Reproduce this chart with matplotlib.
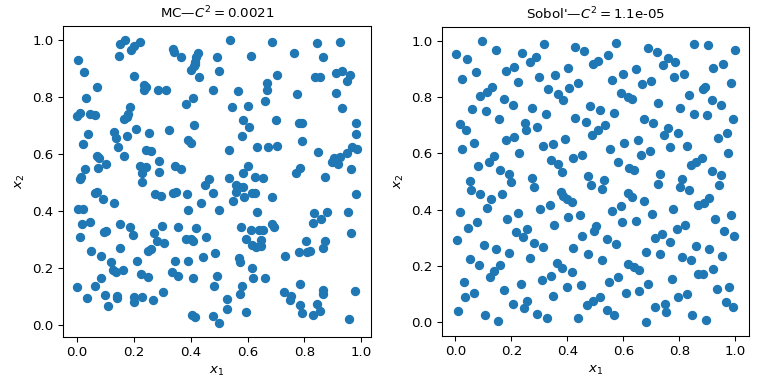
import matplotlib
matplotlib.use("Agg")
import matplotlib.pyplot as plt

mc_x = [0.15, 0.17, 0.19, 0.20, 0.22, 0.147, 0.539, 0.687, 0.845, 0.926, 0.765, 0.866, 0.004,
        0.336, 0.342, 0.366, 0.425, 0.42, 0.415, 0.41, 0.40, 0.43, 0.415, 0.492, 0.498, 0.611,
        0.025, 0.202, 0.704, 0.67, 0.669, 0.565, 0.477, 0.237, 0.243, 0.234, 0.284, 0.313, 0.07,
        0.839, 0.856, 0.911, 0.932, 0.961, 0.95, 0.912, 0.775, 0.409, 0.383, 0.03, 0.187, 0.547,
        0.603, 0.661, 0.932, 0.0, 0.01, 0.044, 0.065, 0.18, 0.167, 0.175, 0.584, 0.699, 0.78,
        0.792, 0.982, 0.41, 0.605, 0.325, 0.208, 0.129, 0.136, 0.039, 0.255, 0.175, 0.582, 0.982,
        0.792, 0.389, 0.40, 0.145, 0.021, 0.634, 0.673, 0.705, 0.533, 0.243, 0.26, 0.848, 0.967,
        0.985, 0.95, 0.926, 0.903, 0.897, 0.917, 0.07, 0.077, 0.165, 0.29, 0.103, 0.074, 0.029,
        0.223, 0.241, 0.345, 0.366, 0.229, 0.229, 0.287, 0.015, 0.009, 0.603, 0.584, 0.625, 0.655,
        0.535, 0.465, 0.45, 0.769, 0.786, 0.874, 0.964, 0.561, 0.57, 0.584, 0.558, 0.617, 0.626,
        0.062, 0.07, 0.091, 0.13, 0.276, 0.296, 0.339, 0.348, 0.386, 0.477, 0.55, 0.586, 0.685,
        0.981, 0.436, 0.004, 0.021, 0.389, 0.498, 0.632, 0.88, 0.953, 0.833, 0.019, 0.047, 0.15,
        0.299, 0.355, 0.185, 0.829, 0.86, 0.687, 0.693, 0.42, 0.578, 0.611, 0.64, 0.655, 0.095,
        0.103, 0.196, 0.27, 0.012, 0.455, 0.593, 0.383, 0.40, 0.407, 0.28, 0.307, 0.646, 0.807,
        0.871, 0.614, 0.63, 0.646, 0.965, 0.05, 0.085, 0.153, 0.249, 0.26, 0.485, 0.442, 0.57,
        0.574, 0.731, 0.78, 0.81, 0.818, 0.866, 0.119, 0.211, 0.389, 0.345, 0.127, 0.137, 0.161,
        0.225, 0.249, 0.333, 0.354, 0.407, 0.617, 0.62, 0.66, 0.494, 0.085, 0.0, 0.062, 0.482,
        0.579, 0.786, 0.866, 0.866, 0.977, 0.304, 0.574, 0.728, 0.097, 0.036, 0.14, 0.141, 0.202,
        0.20, 0.229, 0.269, 0.754, 0.748, 0.109, 0.529, 0.783, 0.845, 0.526, 0.593, 0.792, 0.831,
        0.856, 0.404, 0.415, 0.477, 0.498, 0.958]
mc_y = [0.985, 1.0, 0.965, 0.98, 0.995, 0.945, 1.0, 0.993, 0.99, 0.993, 0.954, 0.94, 0.93,
        0.968, 0.957, 0.94, 0.955, 0.94, 0.925, 0.91, 0.895, 0.87, 0.915, 0.94, 0.892, 0.945,
        0.888, 0.875, 0.878, 0.849, 0.826, 0.82, 0.826, 0.843, 0.835, 0.826, 0.826, 0.826, 0.834,
        0.87, 0.87, 0.886, 0.892, 0.878, 0.855, 0.816, 0.81, 0.796, 0.775, 0.796, 0.767, 0.767,
        0.769, 0.785, 0.761, 0.734, 0.744, 0.74, 0.738, 0.74, 0.722, 0.73, 0.72, 0.72, 0.708,
        0.708, 0.708, 0.703, 0.694, 0.685, 0.689, 0.676, 0.658, 0.67, 0.673, 0.664, 0.664, 0.671,
        0.646, 0.65, 0.638, 0.626, 0.635, 0.626, 0.626, 0.63, 0.615, 0.615, 0.612, 0.609, 0.626,
        0.617, 0.603, 0.591, 0.585, 0.574, 0.564, 0.594, 0.585, 0.594, 0.577, 0.564, 0.55, 0.547,
        0.559, 0.556, 0.559, 0.547, 0.533, 0.504, 0.536, 0.521, 0.512, 0.559, 0.535, 0.521, 0.515,
        0.515, 0.512, 0.492, 0.535, 0.55, 0.521, 0.547, 0.492, 0.486, 0.484, 0.468, 0.465, 0.465,
        0.463, 0.466, 0.443, 0.427, 0.459, 0.453, 0.465, 0.466, 0.459, 0.465, 0.436, 0.448, 0.448,
        0.459, 0.427, 0.406, 0.406, 0.404, 0.404, 0.396, 0.398, 0.398, 0.392, 0.354, 0.361, 0.355,
        0.349, 0.345, 0.344, 0.359, 0.371, 0.355, 0.343, 0.34, 0.343, 0.334, 0.334, 0.334, 0.326,
        0.331, 0.318, 0.324, 0.308, 0.31, 0.304, 0.301, 0.301, 0.296, 0.296, 0.287, 0.299, 0.296,
        0.295, 0.281, 0.273, 0.277, 0.324, 0.261, 0.242, 0.269, 0.261, 0.266, 0.252, 0.238, 0.234,
        0.222, 0.242, 0.255, 0.255, 0.261, 0.269, 0.222, 0.225, 0.225, 0.225, 0.193, 0.187, 0.193,
        0.181, 0.17, 0.187, 0.172, 0.167, 0.201, 0.167, 0.167, 0.172, 0.164, 0.135, 0.137, 0.137,
        0.137, 0.143, 0.123, 0.111, 0.121, 0.117, 0.111, 0.115, 0.105, 0.096, 0.102, 0.094, 0.1,
        0.08, 0.1, 0.088, 0.102, 0.088, 0.067, 0.09, 0.07, 0.073, 0.055, 0.047, 0.041, 0.035,
        0.05, 0.035, 0.027, 0.032, 0.008, 0.023]

sobol_x = [0.095, 0.002, 0.042, 0.145, 0.318, 0.575, 0.429, 0.46, 0.237, 0.287, 0.265, 0.492,
           0.508, 0.546, 0.688, 0.72, 0.759, 0.785, 0.741, 0.851, 0.902, 0.999, 0.955, 0.922,
           0.074, 0.18, 0.211, 0.024, 0.225, 0.3, 0.357, 0.403, 0.407, 0.439, 0.56, 0.599,
           0.646, 0.667, 0.7, 0.781, 0.816, 0.985, 0.884, 0.892, 0.834, 0.332, 0.368, 0.386,
           0.089, 0.113, 0.13, 0.172, 0.204, 0.59, 0.615, 0.632, 0.917, 0.949, 0.724, 0.803,
           0.48, 0.518, 0.567, 0.058, 0.109, 0.275, 0.324, 0.154, 0.429, 0.465, 0.675, 0.706,
           0.851, 0.898, 0.99, 0.015, 0.037, 0.247, 0.251, 0.293, 0.536, 0.51, 0.489, 0.759,
           0.745, 0.795, 0.97, 0.937, 0.068, 0.18, 0.211, 0.312, 0.348, 0.393, 0.603, 0.652,
           0.765, 0.827, 0.024, 0.229, 0.421, 0.453, 0.552, 0.662, 0.694, 0.973, 0.137, 0.119,
           0.079, 0.34, 0.368, 0.38, 0.581, 0.62, 0.638, 0.84, 0.86, 0.88, 0.158, 0.19, 0.198,
           0.273, 0.282, 0.474, 0.483, 0.531, 0.524, 0.73, 0.724, 0.809, 0.801, 0.916, 0.949,
           0.941, 0.051, 0.057, 0.089, 0.166, 0.376, 0.386, 0.398, 0.415, 0.617, 0.631, 0.834,
           0.128, 0.113, 0.015, 0.868, 0.887, 0.907, 0.338, 0.302, 0.56, 0.591, 0.674, 0.777,
           0.702, 0.985, 0.929, 0.186, 0.222, 0.401, 0.445, 0.077, 0.044, 0.257, 0.354, 0.596,
           0.646, 0.501, 0.496, 0.79, 0.819, 0.961, 0.996, 0.217, 0.24, 0.453, 0.542, 0.575,
           0.712, 0.738, 0.767, 0.006, 0.101, 0.146, 0.282, 0.314, 0.421, 0.858, 0.905, 0.682,
           0.193, 0.472, 0.73, 0.051, 0.265, 0.524, 0.809, 0.951, 0.84, 0.083, 0.16, 0.362,
           0.38, 0.617, 0.637, 0.656, 0.137, 0.122, 0.415, 0.866, 0.884, 0.922, 0.34, 0.308,
           0.581, 0.549, 0.773, 0.03, 0.234, 0.448, 0.397, 0.688, 0.976, 0.934, 0.174, 0.065,
           0.611, 0.656, 0.827, 0.033, 0.35, 0.516, 0.795, 0.204, 0.257, 0.246, 0.469, 0.49,
           0.714, 0.75, 0.753, 0.967, 0.99, 0.009, 0.54, 0.107, 0.293, 0.567, 0.326, 0.439,
           0.846, 0.151, 0.682, 0.896]
sobol_y = [1.0, 0.955, 0.937, 0.968, 0.99, 0.994, 0.98, 0.964, 0.958, 0.944, 0.926, 0.92,
           0.929, 0.949, 0.976, 0.962, 0.941, 0.925, 0.913, 0.99, 0.985, 0.967, 0.919, 0.905,
           0.891, 0.895, 0.907, 0.866, 0.854, 0.873, 0.88, 0.903, 0.834, 0.849, 0.863, 0.884,
           0.899, 0.846, 0.857, 0.873, 0.881, 0.852, 0.828, 0.836, 0.808, 0.828, 0.812, 0.789,
           0.804, 0.818, 0.837, 0.792, 0.772, 0.814, 0.8, 0.795, 0.789, 0.772, 0.78, 0.762,
           0.768, 0.753, 0.745, 0.757, 0.751, 0.762, 0.741, 0.724, 0.727, 0.713, 0.724, 0.709,
           0.739, 0.735, 0.721, 0.703, 0.685, 0.707, 0.682, 0.695, 0.7, 0.685, 0.667, 0.689,
           0.664, 0.673, 0.671, 0.656, 0.638, 0.646, 0.659, 0.626, 0.632, 0.65, 0.638, 0.646,
           0.622, 0.628, 0.614, 0.602, 0.582, 0.594, 0.614, 0.593, 0.608, 0.602, 0.591, 0.569,
           0.555, 0.578, 0.564, 0.534, 0.569, 0.549, 0.54, 0.558, 0.57, 0.584, 0.54, 0.528, 0.499,
           0.513, 0.481, 0.519, 0.489, 0.504, 0.474, 0.528, 0.492, 0.509, 0.481, 0.539, 0.523,
           0.489, 0.503, 0.471, 0.454, 0.454, 0.463, 0.448, 0.438, 0.427, 0.46, 0.445, 0.468,
           0.436, 0.406, 0.392, 0.418, 0.424, 0.442, 0.418, 0.403, 0.394, 0.414, 0.432, 0.403,
           0.385, 0.379, 0.368, 0.368, 0.388, 0.374, 0.382, 0.355, 0.335, 0.331, 0.344, 0.355,
           0.361, 0.341, 0.325, 0.331, 0.344, 0.325, 0.305, 0.319, 0.303, 0.305, 0.296, 0.278,
           0.299, 0.314, 0.285, 0.29, 0.273, 0.258, 0.281, 0.267, 0.264, 0.27, 0.26, 0.249,
           0.246, 0.242, 0.242, 0.223, 0.228, 0.222, 0.232, 0.236, 0.219, 0.204, 0.201, 0.21,
           0.192, 0.207, 0.196, 0.184, 0.183, 0.159, 0.178, 0.172, 0.172, 0.19, 0.164, 0.151,
           0.16, 0.143, 0.154, 0.143, 0.135, 0.131, 0.125, 0.135, 0.125, 0.119, 0.113, 0.103,
           0.103, 0.109, 0.1, 0.088, 0.094, 0.089, 0.088, 0.064, 0.076, 0.05, 0.062, 0.074,
           0.052, 0.065, 0.036, 0.071, 0.053, 0.04, 0.044, 0.026, 0.029, 0.026, 0.014, 0.014,
           0.023, 0.005, 0.0, 0.008]

titles = ["MC\u2014$C^2 = 0.0021$", "Sobol'\u2014$C^2 = $1.1e-05"]

fig = plt.figure(figsize=(8, 4), dpi=96)
ax1 = fig.add_axes([63 / 768, 1 - 337 / 384, 308 / 768, 311 / 384])
ax2 = fig.add_axes([442 / 768, 1 - 336 / 384, 307 / 768, 309 / 384])

for ax, xs, ys, t in [(ax1, mc_x, mc_y, titles[0]), (ax2, sobol_x, sobol_y, titles[1])]:
    ax.scatter(xs, ys, color="#1f77b4")
    ax.set_xlabel("$x_1$")
    ax.set_ylabel("$x_2$")
    ax.set_title(t, fontsize=10)
    ax.set_xticks([0.0, 0.2, 0.4, 0.6, 0.8, 1.0])
    ax.set_yticks([0.0, 0.2, 0.4, 0.6, 0.8, 1.0])

fig.savefig("out.png", dpi=96)
